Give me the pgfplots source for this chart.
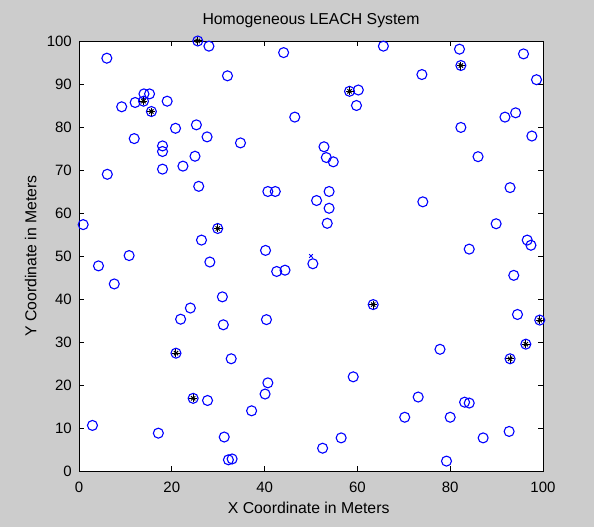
\documentclass[border=0pt]{standalone}
\usepackage{fontspec}
\setmainfont{Liberation Sans}
\usepackage{pgfplots}
\pgfplotsset{compat=1.18}
\definecolor{figgray}{RGB}{204,204,204}
\definecolor{mblue}{RGB}{0,0,255}
\begin{document}
\begin{tikzpicture}
\fill[figgray] (0,0) rectangle (594bp,527bp);
\begin{axis}[
  at={(79bp,56bp)}, anchor=south west,
  width=464bp, height=430bp, scale only axis,
  xmin=0,xmax=100,ymin=0,ymax=100,
  xtick={0,20,...,100}, ytick={0,10,...,100},
  xtick pos=both, ytick pos=both,
  xticklabel pos=bottom, yticklabel pos=left,
  tick align=inside, major tick length=5bp,
  axis line style={black, line width=0.8bp},
  tick style={black, line width=0.8bp},
  axis background/.style={fill=white},
  clip=false,
  /pgf/number format/assume math mode=true,
  font=\fontsize{15.8bp}{18bp}\selectfont,
  tick label style={font=\fontsize{15bp}{18bp}\selectfont},
  xticklabel style={anchor=base, yshift=-21.5bp},
  yticklabel style={anchor=east, inner sep=0pt, xshift=-7bp},
  title={Homogeneous LEACH System},
  title style={at={(axis description cs:0.5,1.0256)}, anchor=base, inner sep=0pt},
  xlabel={X Coordinate in Meters},
  xlabel style={at={(axis description cs:0.495,-0.0988)}, anchor=base, inner sep=0pt},
  ylabel={Y Coordinate in Meters},
  ylabel style={at={(axis description cs:-0.0916,0.5)}, anchor=base, inner sep=0pt},
]
\addplot[only marks, mark=o, mark size=5bp, mblue, mark options={line width=1.1bp}] coordinates {
(14.0,87.7) (15.2,87.7) (13.9,86.0) (15.6,83.6) (9.2,84.7) (12.1,85.7) (19.0,86.0) (6.0,96.0) (25.6,100.0) (28.0,98.8) (32.0,91.9) (20.8,79.7) (25.3,80.5) (27.6,77.7) (11.9,77.3) (18.0,75.6) (18.0,74.3) (25.0,73.2) (22.4,70.9) (18.0,70.2) (6.1,69.0)
(44.1,97.3) (65.6,98.8) (58.3,88.3) (60.2,88.6) (59.8,85.0) (46.5,82.3) (34.8,76.3) (52.8,75.4) (53.3,72.9) (54.8,71.9)
(82.0,98.1) (82.3,94.3) (73.9,92.2) (95.8,97.0) (98.6,91.0) (91.8,82.3) (94.1,83.3) (82.3,79.9) (97.6,77.9) (86.0,73.1)
(25.8,66.2) (0.9,57.3) (29.9,56.4) (26.4,53.7) (10.8,50.1) (28.2,48.6) (4.2,47.7) (7.6,43.5) (30.9,40.5) (24.0,37.9) (21.9,35.3)
(40.7,65.0) (42.3,65.0) (53.9,65.0) (51.2,62.9) (53.9,61.1) (53.5,57.6) (40.2,51.3) (50.4,48.2) (42.6,46.4) (44.4,46.7) (63.4,38.7) (40.4,35.2)
(92.9,65.9) (74.1,62.6) (89.9,57.5) (96.6,53.7) (97.4,52.5) (84.1,51.6) (93.7,45.5) (94.5,36.4) (99.3,35.1)
(31.1,34.0) (20.9,27.4) (32.8,26.1) (24.6,16.9) (27.7,16.4) (2.9,10.6) (17.1,8.8) (31.3,7.9) (32.2,2.6)
(59.1,21.9) (40.7,20.5) (40.1,17.9) (37.2,14.0) (56.5,7.7) (52.5,5.3) (33.0,2.8)
(96.3,29.5) (92.9,26.1) (77.8,28.3) (73.1,17.2) (83.1,16.0) (84.1,15.8) (70.2,12.5) (80.0,12.5) (92.7,9.2) (87.1,7.7) (79.2,2.3)
};
\addplot[only marks, mark=+, mark size=4bp, black, mark options={line width=1bp}] coordinates {
(13.9,86.0) (15.6,83.6) (25.6,100) (58.3,88.3) (82.3,94.3) (29.9,56.4) (63.4,38.7) (99.3,35.1) (20.9,27.4) (24.6,16.9) (96.3,29.5) (92.9,26.1)
};
\addplot[only marks, mark=x, mark size=3bp, black, mark options={line width=1bp}] coordinates {
(13.9,86.0) (15.6,83.6) (25.6,100) (58.3,88.3) (82.3,94.3) (29.9,56.4) (63.4,38.7) (99.3,35.1) (20.9,27.4) (24.6,16.9) (96.3,29.5) (92.9,26.1)
};
\addplot[only marks, mark=x, mark size=2.5bp, mblue, mark options={line width=0.8bp}] coordinates {
(50,50)
};
\end{axis}
\end{tikzpicture}
\end{document}
